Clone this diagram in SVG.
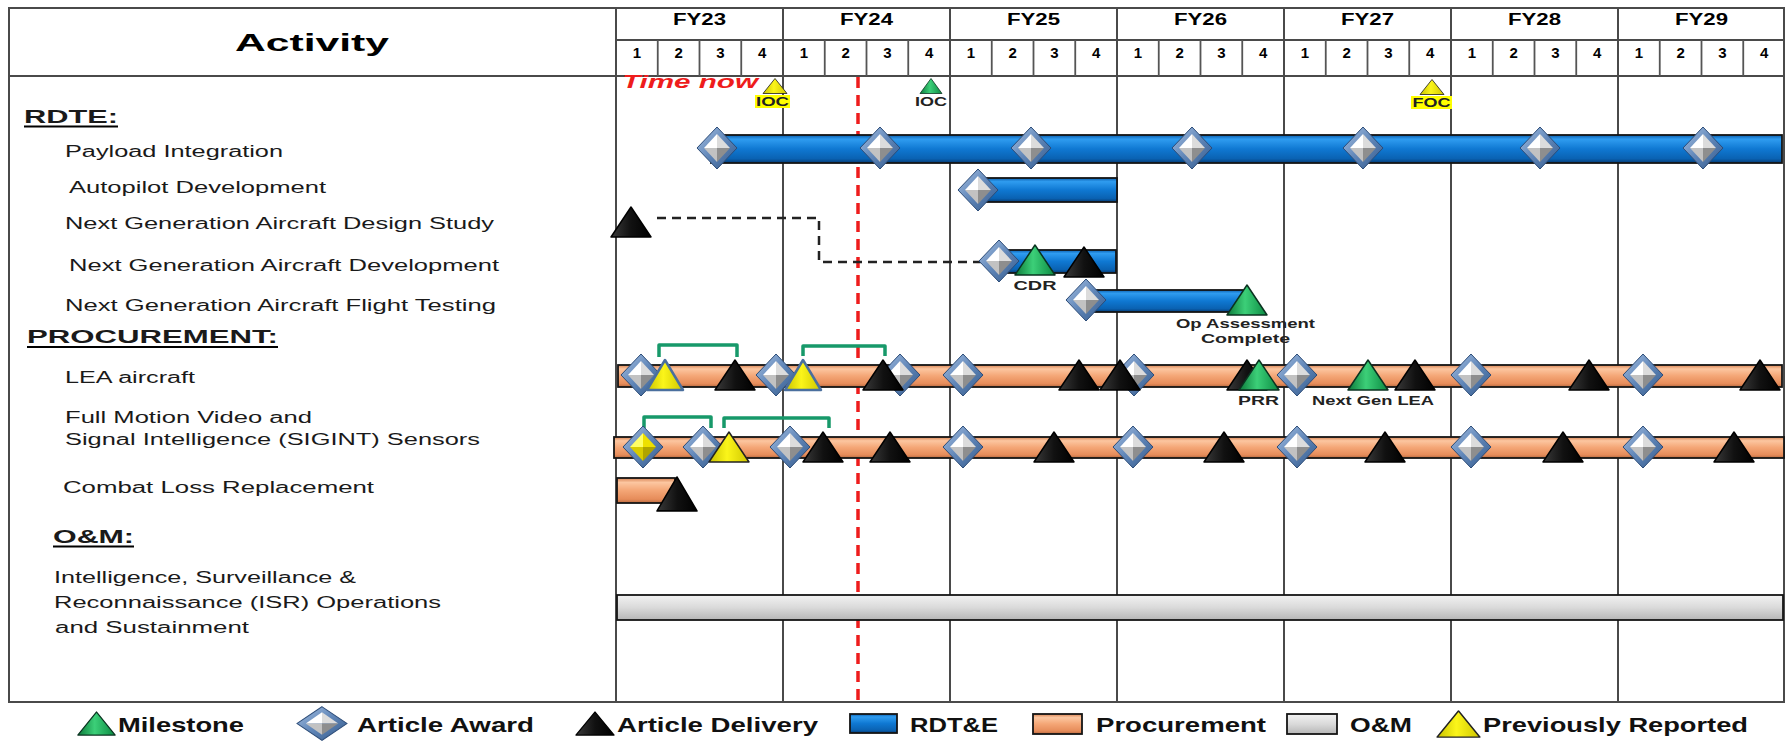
<svg xmlns="http://www.w3.org/2000/svg" xmlns:xlink="http://www.w3.org/1999/xlink" width="1785" height="741" viewBox="0 0 1785 741">
<defs>
<style>
.t{font-family:"Liberation Sans",Arial,sans-serif;fill:#1a1a1a}
.lbl{font-size:16px}
.b{font-weight:bold}
.hdr{font-family:"Liberation Sans",Arial,sans-serif;font-weight:bold;fill:#000}
.fy{font-size:16px;text-anchor:middle}
.q{font-size:15px;text-anchor:middle}
.grid{stroke:#4a4a4a;stroke-width:2;fill:none}
.qline{stroke:#555;stroke-width:1.8;fill:none}
.bar{stroke:#141414;stroke-width:1.8}
.ul{stroke:#000;stroke-width:2}
.mk{font-family:"Liberation Sans",Arial,sans-serif;font-weight:bold;font-size:13px;fill:#222;text-anchor:middle}
.leg{font-family:"Liberation Sans",Arial,sans-serif;font-weight:bold;font-size:21px;fill:#111}
.brk{stroke:#17996a;stroke-width:3.5;fill:none;stroke-linejoin:round}
</style>
<linearGradient id="gBlue" x1="0" y1="0" x2="0" y2="1">
<stop offset="0" stop-color="#0c5fae"/><stop offset="0.15" stop-color="#2f9cf0"/><stop offset="0.5" stop-color="#0f78d2"/><stop offset="0.85" stop-color="#0a62b2"/><stop offset="1" stop-color="#063a72"/>
</linearGradient>
<linearGradient id="gOrange" x1="0" y1="0" x2="0" y2="1">
<stop offset="0" stop-color="#d88454"/><stop offset="0.18" stop-color="#fcc6a0"/><stop offset="0.5" stop-color="#f4a676"/><stop offset="0.85" stop-color="#e68c5a"/><stop offset="1" stop-color="#b86a40"/>
</linearGradient>
<linearGradient id="gGray" x1="0" y1="0" x2="0" y2="1">
<stop offset="0" stop-color="#f2f2f2"/><stop offset="0.5" stop-color="#dadada"/><stop offset="1" stop-color="#b6b6b6"/>
</linearGradient>
<linearGradient id="gEdge" x1="0" y1="0" x2="1" y2="1">
<stop offset="0" stop-color="#a6c0e2"/><stop offset="0.5" stop-color="#6086b8"/><stop offset="1" stop-color="#33598a"/>
</linearGradient>
<linearGradient id="gK" x1="0" y1="0" x2="1" y2="0">
<stop offset="0" stop-color="#3a3a3a"/><stop offset="0.5" stop-color="#111"/><stop offset="1" stop-color="#000"/>
</linearGradient>
<linearGradient id="gG" x1="0" y1="0" x2="1" y2="0">
<stop offset="0" stop-color="#0c7a3a"/><stop offset="0.45" stop-color="#3ccf78"/><stop offset="1" stop-color="#0b8a42"/>
</linearGradient>
<linearGradient id="gY" x1="0" y1="0" x2="1" y2="0">
<stop offset="0" stop-color="#c9c200"/><stop offset="0.45" stop-color="#fbf51a"/><stop offset="1" stop-color="#cfc600"/>
</linearGradient>
<g id="dia">
<polygon points="0,-21 20,0 0,21 -20,0" fill="url(#gEdge)" stroke="#2c4c78" stroke-width="1"/>
<polygon points="0,-14 -13,0 0,0" fill="#ffffff"/>
<polygon points="0,-14 13,0 0,0" fill="#dcdcdc"/>
<polygon points="-13,0 0,14 0,0" fill="#c2c2c2"/>
<polygon points="13,0 0,14 0,0" fill="#8e8e8e"/>
</g>
<g id="diaY">
<polygon points="0,-21 20,0 0,21 -20,0" fill="url(#gEdge)" stroke="#2c4c78" stroke-width="1"/>
<polygon points="0,-14 -13,0 0,0" fill="#ffff66"/>
<polygon points="0,-14 13,0 0,0" fill="#eee000"/>
<polygon points="-13,0 0,14 0,0" fill="#d8cc00"/>
<polygon points="13,0 0,14 0,0" fill="#b0a400"/>
</g>
<polygon id="triK" points="0,-15 20,15 -20,15" fill="url(#gK)" stroke="#000" stroke-width="1.5" stroke-linejoin="round"/>
<polygon id="triG" points="0,-15 20,15 -20,15" fill="url(#gG)" stroke="#0a3320" stroke-width="1.5" stroke-linejoin="round"/>
<polygon id="triY" points="0,-15 20,15 -20,15" fill="url(#gY)" stroke="#222" stroke-width="1.5" stroke-linejoin="round"/>
<polygon id="triYb" points="0,-15 18,15 -18,15" fill="url(#gY)" stroke="#4a6f9e" stroke-width="2.5" stroke-linejoin="round"/>
</defs>

<rect width="1785" height="741" fill="#fff"/>

<g id="grid">
<rect x="9" y="8" width="1775" height="694" class="grid"/>
<path class="grid" d="M616,40 H1785 M9,76 H1785 M616,8 V702 M783,8 V702 M950,8 V702 M1117,8 V702 M1284,8 V702 M1451,8 V702 M1618,8 V702"/>
<path class="qline" d="M657.75,40 V76 M699.5,40 V76 M741.25,40 V76 M824.75,40 V76 M866.5,40 V76 M908.25,40 V76 M991.75,40 V76 M1033.5,40 V76 M1075.25,40 V76 M1158.75,40 V76 M1200.5,40 V76 M1242.25,40 V76 M1325.75,40 V76 M1367.5,40 V76 M1409.25,40 V76 M1492.75,40 V76 M1534.5,40 V76 M1576.25,40 V76 M1659.75,40 V76 M1701.5,40 V76 M1743.25,40 V76"/>
</g>

<g id="header">
<text class="hdr" x="235" y="51" font-size="24" textLength="154" lengthAdjust="spacingAndGlyphs">Activity</text>
<text class="hdr fy" x="699.5" y="25" textLength="53" lengthAdjust="spacingAndGlyphs">FY23</text>
<text class="hdr fy" x="866.5" y="25" textLength="53" lengthAdjust="spacingAndGlyphs">FY24</text>
<text class="hdr fy" x="1033.5" y="25" textLength="53" lengthAdjust="spacingAndGlyphs">FY25</text>
<text class="hdr fy" x="1200.5" y="25" textLength="53" lengthAdjust="spacingAndGlyphs">FY26</text>
<text class="hdr fy" x="1367.5" y="25" textLength="53" lengthAdjust="spacingAndGlyphs">FY27</text>
<text class="hdr fy" x="1534.5" y="25" textLength="53" lengthAdjust="spacingAndGlyphs">FY28</text>
<text class="hdr fy" x="1701.5" y="25" textLength="53" lengthAdjust="spacingAndGlyphs">FY29</text>
<g class="hdr q">
<text x="636.9" y="58">1</text><text x="678.6" y="58">2</text><text x="720.4" y="58">3</text><text x="762.1" y="58">4</text>
<text x="803.9" y="58">1</text><text x="845.6" y="58">2</text><text x="887.4" y="58">3</text><text x="929.1" y="58">4</text>
<text x="970.9" y="58">1</text><text x="1012.6" y="58">2</text><text x="1054.4" y="58">3</text><text x="1096.1" y="58">4</text>
<text x="1137.9" y="58">1</text><text x="1179.6" y="58">2</text><text x="1221.4" y="58">3</text><text x="1263.1" y="58">4</text>
<text x="1304.9" y="58">1</text><text x="1346.6" y="58">2</text><text x="1388.4" y="58">3</text><text x="1430.1" y="58">4</text>
<text x="1471.9" y="58">1</text><text x="1513.6" y="58">2</text><text x="1555.4" y="58">3</text><text x="1597.1" y="58">4</text>
<text x="1638.9" y="58">1</text><text x="1680.6" y="58">2</text><text x="1722.4" y="58">3</text><text x="1764.1" y="58">4</text>
</g>
</g>

<g id="time-now">
<line x1="858" y1="77" x2="858" y2="702" stroke="#ee1c1c" stroke-width="3.5" stroke-dasharray="11,7"/>
<text x="622" y="88" font-family="Liberation Sans, Arial, sans-serif" font-size="19" font-weight="bold" font-style="italic" fill="#ee1c1c" textLength="136" lengthAdjust="spacingAndGlyphs">Time now</text>
</g>

<g id="labels" class="t">
<text class="b" x="24" y="123" font-size="18" textLength="94" lengthAdjust="spacingAndGlyphs">RDTE:</text>
<line class="ul" x1="24" y1="126.5" x2="118" y2="126.5"/>
<text class="lbl" x="65" y="157" textLength="218" lengthAdjust="spacingAndGlyphs">Payload Integration</text>
<text class="lbl" x="69" y="193" textLength="257" lengthAdjust="spacingAndGlyphs">Autopilot Development</text>
<text class="lbl" x="65" y="229" textLength="429" lengthAdjust="spacingAndGlyphs">Next Generation Aircraft Design Study</text>
<text class="lbl" x="69" y="271" textLength="430" lengthAdjust="spacingAndGlyphs">Next Generation Aircraft Development</text>
<text class="lbl" x="65" y="311" textLength="431" lengthAdjust="spacingAndGlyphs">Next Generation Aircraft Flight Testing</text>
<text class="b" x="27" y="343" font-size="18" textLength="251" lengthAdjust="spacingAndGlyphs">PROCUREMENT:</text>
<line class="ul" x1="27" y1="347" x2="278" y2="347"/>
<text class="lbl" x="65" y="383" textLength="130" lengthAdjust="spacingAndGlyphs">LEA aircraft</text>
<text class="lbl" x="65" y="423" textLength="247" lengthAdjust="spacingAndGlyphs">Full Motion Video and</text>
<text class="lbl" x="65" y="445" textLength="415" lengthAdjust="spacingAndGlyphs">Signal Intelligence (SIGINT) Sensors</text>
<text class="lbl" x="63" y="493" textLength="311" lengthAdjust="spacingAndGlyphs">Combat Loss Replacement</text>
<text class="b" x="53" y="543" font-size="18" textLength="81" lengthAdjust="spacingAndGlyphs">O&amp;M:</text>
<line class="ul" x1="53" y1="546.5" x2="134" y2="546.5"/>
<text class="lbl" x="54" y="583" textLength="302" lengthAdjust="spacingAndGlyphs">Intelligence, Surveillance &amp;</text>
<text class="lbl" x="54" y="608" textLength="387" lengthAdjust="spacingAndGlyphs">Reconnaissance (ISR) Operations</text>
<text class="lbl" x="55" y="633" textLength="194" lengthAdjust="spacingAndGlyphs">and Sustainment</text>
</g>

<g id="bars">
<rect id="bar-payload" class="bar" x="711" y="135" width="1071" height="28" fill="url(#gBlue)"/>
<rect id="bar-autopilot" class="bar" x="983" y="178" width="134" height="24" fill="url(#gBlue)"/>
<rect id="bar-ngadev" class="bar" x="1008" y="250" width="108" height="23" fill="url(#gBlue)"/>
<rect id="bar-flight" class="bar" x="1092" y="290" width="153" height="22" fill="url(#gBlue)"/>
<rect id="bar-lea" class="bar" x="618" y="365" width="1164" height="22" fill="url(#gOrange)"/>
<rect id="bar-fmv" class="bar" x="614" y="437" width="1170" height="21" fill="url(#gOrange)"/>
<rect id="bar-combat" class="bar" x="617" y="478" width="58" height="25" fill="url(#gOrange)"/>
<rect id="bar-om" class="bar" x="617" y="595" width="1166" height="25" fill="url(#gGray)"/>
</g>

<g id="connectors">
<path d="M657,218 H819 V262 H983" fill="none" stroke="#222" stroke-width="2.5" stroke-dasharray="9,6"/>
<path class="brk" d="M659,357 V345 H737 V357"/>
<path class="brk" d="M803,356 V346 H885 V356"/>
<path class="brk" d="M644,428 V417 H711 V428"/>
<path class="brk" d="M724,428 V418 H829 V428"/>
</g>

<g id="top-milestones">
<use href="#triY" transform="translate(775,86) scale(0.6,0.5)"/>
<rect x="755" y="95" width="35" height="13" fill="#ffff00"/>
<text class="mk" x="772.5" y="106" font-size="12" textLength="33" lengthAdjust="spacingAndGlyphs">IOC</text>
<use href="#triG" transform="translate(931,86) scale(0.55,0.5)"/>
<text class="mk" x="931" y="106" font-size="12" font-weight="normal" textLength="32" lengthAdjust="spacingAndGlyphs">IOC</text>
<use href="#triY" transform="translate(1432,87) scale(0.6,0.5)"/>
<rect x="1411" y="96" width="41" height="13" fill="#ffff00"/>
<text class="mk" x="1431.5" y="107" font-size="12" textLength="38" lengthAdjust="spacingAndGlyphs">FOC</text>
</g>

<g id="row-payload">
<use href="#dia" x="717" y="148"/><use href="#dia" x="880" y="148"/><use href="#dia" x="1031" y="148"/><use href="#dia" x="1192" y="148"/><use href="#dia" x="1363" y="148"/><use href="#dia" x="1540" y="148"/><use href="#dia" x="1703" y="148"/>
</g>
<g id="row-autopilot"><use href="#dia" x="978" y="190"/></g>
<g id="row-design"><use href="#triK" x="631" y="222"/></g>
<g id="row-ngadev">
<use href="#dia" x="999" y="261"/>
<use href="#triG" x="1035" y="260"/>
<use href="#triK" x="1084" y="262"/>
<text class="mk" x="1035" y="290" textLength="43" lengthAdjust="spacingAndGlyphs">CDR</text>
</g>
<g id="row-flight">
<use href="#dia" x="1086" y="300"/>
<use href="#triG" x="1247" y="300"/>
<text class="mk" x="1245.5" y="328" textLength="139" lengthAdjust="spacingAndGlyphs">Op Assessment</text>
<text class="mk" x="1245.5" y="343" textLength="89" lengthAdjust="spacingAndGlyphs">Complete</text>
</g>
<g id="row-lea">
<use href="#dia" x="641" y="375"/>
<use href="#triYb" x="665" y="375"/>
<use href="#triK" x="735" y="375"/>
<use href="#dia" x="776" y="375"/>
<use href="#triYb" x="803" y="375"/>
<use href="#dia" x="900" y="375"/>
<use href="#triK" x="883" y="375"/>
<use href="#dia" x="963" y="375"/>
<use href="#triK" x="1079" y="375"/>
<use href="#dia" x="1134" y="375"/>
<use href="#triK" x="1120" y="375"/>
<use href="#triK" x="1247" y="375"/>
<use href="#triG" x="1259" y="375"/>
<use href="#dia" x="1297" y="375"/>
<use href="#triG" x="1368" y="375"/>
<use href="#triK" x="1415" y="375"/>
<use href="#dia" x="1471" y="375"/>
<use href="#triK" x="1589" y="375"/>
<use href="#dia" x="1643" y="375"/>
<use href="#triK" x="1760" y="375"/>
<text class="mk" x="1258.5" y="405" textLength="41" lengthAdjust="spacingAndGlyphs">PRR</text>
<text class="mk" x="1373" y="405" textLength="122" lengthAdjust="spacingAndGlyphs">Next Gen LEA</text>
</g>
<g id="row-fmv">
<use href="#diaY" x="643" y="447"/>
<use href="#dia" x="703" y="447"/>
<use href="#triY" x="729" y="447"/>
<use href="#dia" x="790" y="447"/>
<use href="#triK" x="823" y="447"/>
<use href="#triK" x="890" y="447"/>
<use href="#dia" x="963" y="447"/>
<use href="#triK" x="1054" y="447"/>
<use href="#dia" x="1133" y="447"/>
<use href="#triK" x="1224" y="447"/>
<use href="#dia" x="1297" y="447"/>
<use href="#triK" x="1385" y="447"/>
<use href="#dia" x="1471" y="447"/>
<use href="#triK" x="1563" y="447"/>
<use href="#dia" x="1643" y="447"/>
<use href="#triK" x="1734" y="447"/>
</g>
<g id="row-combat"><use href="#triK" transform="translate(677,494) scale(1,1.13)"/></g>

<g id="legend">
<use href="#triG" transform="translate(96.5,723.5) scale(0.93,0.77)"/>
<text class="leg" x="118" y="732" textLength="126" lengthAdjust="spacingAndGlyphs">Milestone</text>
<use href="#dia" transform="translate(322,723.5) scale(1.25,0.8)"/>
<text class="leg" x="357" y="732" textLength="177" lengthAdjust="spacingAndGlyphs">Article Award</text>
<use href="#triK" transform="translate(595,723.5) scale(0.95,0.77)"/>
<text class="leg" x="617" y="732" textLength="201" lengthAdjust="spacingAndGlyphs">Article Delivery</text>
<rect class="bar" x="850" y="714" width="47" height="19" fill="url(#gBlue)" stroke-width="2.5"/>
<text class="leg" x="910" y="732" textLength="88" lengthAdjust="spacingAndGlyphs">RDT&amp;E</text>
<rect class="bar" x="1033" y="714" width="49" height="20" fill="url(#gOrange)" stroke-width="2.5"/>
<text class="leg" x="1096" y="732" textLength="170" lengthAdjust="spacingAndGlyphs">Procurement</text>
<rect class="bar" x="1287" y="714" width="50" height="20" fill="url(#gGray)" stroke-width="2.5"/>
<text class="leg" x="1350" y="732" textLength="62" lengthAdjust="spacingAndGlyphs">O&amp;M</text>
<use href="#triY" transform="translate(1458.5,724) scale(1.07,0.87)"/>
<text class="leg" x="1483" y="732" textLength="265" lengthAdjust="spacingAndGlyphs">Previously Reported</text>
</g>
</svg>
